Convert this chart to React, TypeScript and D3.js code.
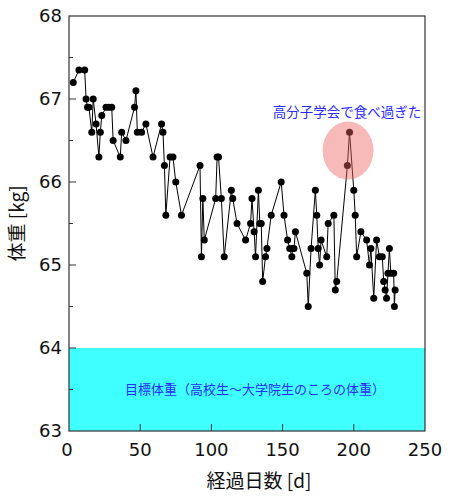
import React, { useEffect, useRef } from 'react';
import * as d3 from 'd3';

// elapsed days and body weight [kg]
const days = [
  3, 7, 11, 12, 13, 14, 16, 17, 19, 21, 22, 23, 26, 28, 30, 31, 36, 37, 40, 46,
  47, 48, 51, 54, 59, 65, 66, 67, 68, 71, 73, 75, 79, 92, 93, 94, 95, 103, 104, 105,
  107, 109, 114, 115, 118, 124, 127.5, 128.5, 130, 131, 133, 134, 135, 136, 138, 139, 142, 149,
  151, 153.5, 155, 156.5, 157, 158, 159, 167, 168, 170, 173, 174, 175, 176, 177, 181,
  182, 186, 187, 188, 195.5, 197, 200, 201, 202, 205, 209, 211, 212, 214, 216, 218,
  220, 221, 222, 223, 224, 225, 226, 228, 228.5, 229
];
const weights = [
  67.2, 67.35, 67.35, 67.0, 66.9, 66.9, 66.6, 67.0, 66.7, 66.3, 66.6, 66.8, 66.9, 66.9, 66.9, 66.5, 66.3, 66.6, 66.5, 66.9,
  67.1, 66.6, 66.6, 66.7, 66.3, 66.7, 66.6, 66.2, 65.6, 66.3, 66.3, 66.0, 65.6, 66.2, 65.1, 65.8, 65.3, 65.8, 66.3, 66.3,
  65.8, 65.1, 65.9, 65.8, 65.5, 65.3, 65.5, 65.8, 65.4, 65.1, 65.9, 65.5, 65.5, 64.8, 65.1, 65.2, 65.6, 66.0,
  65.6, 65.3, 65.2, 65.1, 65.2, 65.2, 65.4, 64.9, 64.5, 65.2, 65.9, 65.6, 65.2, 65.0, 65.3, 65.1,
  65.5, 65.6, 64.7, 64.8, 66.2, 66.6, 65.9, 65.6, 65.1, 65.4, 65.3, 65.0, 65.2, 64.6, 65.3, 65.1,
  65.1, 64.8, 64.7, 64.6, 64.9, 65.2, 64.9, 64.9, 64.5, 64.7
];

const xTicks = [0, 50, 100, 150, 200, 250];
const yTicks = [63, 64, 65, 66, 67, 68];
const yMinorTicks = [63.5, 64.5, 65.5, 66.5, 67.5];

// target band and the highlighted spike
const targetRange = [63, 64];
const targetLabel = '目標体重（高校生～大学院生のころの体重）';
const spikeCenter = { day: 197, weight: 66.38 };
const spikeLabel = '高分子学会で食べ過ぎた';

const W = 450;
const H = 498;
const margin = { top: 16, right: 25, bottom: 67, left: 69 };

const jp = '"Noto Sans CJK JP", "Noto Sans", sans-serif';
const num = '"DejaVu Sans", Verdana, sans-serif';

export default function App() {
  const svgRef = useRef<SVGSVGElement>(null);

  useEffect(() => {
    if (!svgRef.current) return;
    const svg = d3.select(svgRef.current);
    svg.selectAll('*').remove();

    const x = d3.scaleLinear().domain([0, 250]).range([margin.left, W - margin.right]);
    const y = d3.scaleLinear().domain([63, 68]).range([H - margin.bottom, margin.top]);

    // target weight band
    svg.append('rect')
      .attr('x', x(0))
      .attr('y', y(targetRange[1]))
      .attr('width', x(250) - x(0))
      .attr('height', y(targetRange[0]) - y(targetRange[1]))
      .attr('fill', '#40ffff');

    svg.append('text')
      .attr('x', (x(0) + x(250)) / 2 + 8)
      .attr('y', y(63.5))
      .attr('dy', '0.35em')
      .attr('text-anchor', 'middle')
      .attr('font-family', jp)
      .attr('font-size', 13)
      .attr('fill', '#2a2aff')
      .text(targetLabel);

    // weight line + points
    const pts = days.map((d, i) => [d, weights[i]] as [number, number]);
    const line = d3.line<[number, number]>().x(d => x(d[0])).y(d => y(d[1]));
    svg.append('path')
      .attr('d', line(pts) || '')
      .attr('fill', 'none')
      .attr('stroke', '#000')
      .attr('stroke-width', 1);

    svg.selectAll('circle.pt')
      .data(pts)
      .enter()
      .append('circle')
      .attr('class', 'pt')
      .attr('cx', d => x(d[0]))
      .attr('cy', d => y(d[1]))
      .attr('r', 3.5)
      .attr('fill', '#000');

    // highlight ellipse over the spike
    svg.append('ellipse')
      .attr('cx', x(spikeCenter.day) - 1.5)
      .attr('cy', y(spikeCenter.weight))
      .attr('rx', 25.5)
      .attr('ry', 29)
      .attr('fill', '#f05f5f')
      .attr('opacity', 0.44);

    svg.append('text')
      .attr('x', 347)
      .attr('y', 112)
      .attr('dy', '0.35em')
      .attr('text-anchor', 'middle')
      .attr('font-family', jp)
      .attr('font-size', 13.5)
      .attr('fill', '#2a2aff')
      .text(spikeLabel);

    // frame
    svg.append('rect')
      .attr('x', x(0))
      .attr('y', y(68))
      .attr('width', x(250) - x(0))
      .attr('height', y(63) - y(68))
      .attr('fill', 'none')
      .attr('stroke', '#333')
      .attr('stroke-width', 1.2);

    // ticks (inward)
    svg.selectAll('line.xt')
      .data(xTicks.slice(1, -1))
      .enter()
      .append('line')
      .attr('x1', d => x(d)).attr('x2', d => x(d))
      .attr('y1', y(63)).attr('y2', y(63) - 7)
      .attr('stroke', '#333');

    svg.selectAll('line.yt')
      .data(yTicks.slice(1, -1))
      .enter()
      .append('line')
      .attr('x1', x(0)).attr('x2', x(0) + 7)
      .attr('y1', d => y(d)).attr('y2', d => y(d))
      .attr('stroke', '#333');

    svg.selectAll('line.ym')
      .data(yMinorTicks)
      .enter()
      .append('line')
      .attr('x1', x(0)).attr('x2', x(0) + 4)
      .attr('y1', d => y(d)).attr('y2', d => y(d))
      .attr('stroke', '#333');

    // tick labels
    svg.selectAll('text.xl')
      .data(xTicks)
      .enter()
      .append('text')
      .attr('x', d => x(d) - (d === 0 ? 2 : 0))
      .attr('y', 456)
      .attr('text-anchor', 'middle')
      .attr('font-family', num)
      .attr('font-size', 18)
      .attr('fill', '#111')
      .text(d => d);

    svg.selectAll('text.yl')
      .data(yTicks)
      .enter()
      .append('text')
      .attr('x', 62)
      .attr('y', d => y(d))
      .attr('dy', '0.36em')
      .attr('text-anchor', 'end')
      .attr('font-family', num)
      .attr('font-size', 18)
      .attr('fill', '#111')
      .text(d => d);

    // axis titles
    svg.append('text')
      .attr('x', 259)
      .attr('y', 488)
      .attr('text-anchor', 'middle')
      .attr('font-family', jp)
      .attr('font-size', 19)
      .attr('fill', '#111')
      .text('経過日数 [d]');

    svg.append('text')
      .attr('transform', `translate(17,${(y(63) + y(68)) / 2}) rotate(-90)`)
      .attr('dy', '0.35em')
      .attr('text-anchor', 'middle')
      .attr('font-family', jp)
      .attr('font-size', 19)
      .attr('fill', '#111')
      .text('体重 [kg]');
  }, []);

  return (
    <svg
      ref={svgRef}
      width={W}
      height={H}
      style={{ position: 'absolute', left: 0, top: 0, background: '#fff' }}
    />
  );
}
